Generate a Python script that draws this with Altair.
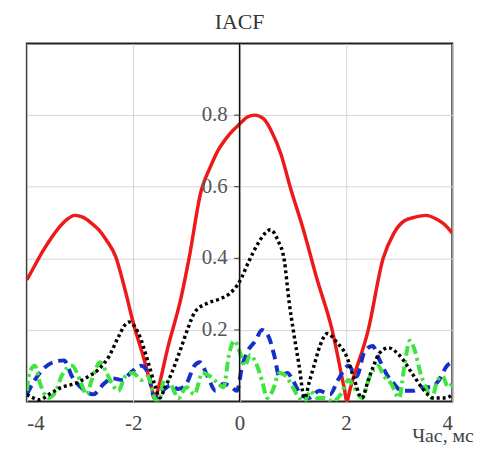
import altair as alt
import pandas as pd

# ---------------- data ----------------
red_x = [-4.0, -3.85, -3.7, -3.55, -3.4, -3.25, -3.1, -2.95, -2.8, -2.65, -2.5, -2.33, -2.15, -2.0,
         -1.8, -1.64, -1.59, -1.54, -1.35, -1.1, -0.95, -0.72, -0.55, -0.41, -0.2, 0.0, 0.15, 0.28,
         0.45, 0.6, 0.78, 0.95, 1.2, 1.45, 1.74, 1.97, 2.02, 2.07, 2.42, 2.7, 2.9, 3.1, 3.3, 3.5,
         3.7, 3.85, 4.0]
red_y = [0.34, 0.38, 0.42, 0.455, 0.485, 0.508, 0.52, 0.515, 0.50, 0.48, 0.45, 0.405, 0.31, 0.22,
         0.12, 0.03, 0.005, 0.03, 0.15, 0.29, 0.40, 0.59, 0.655, 0.70, 0.745, 0.775, 0.795, 0.80,
         0.79, 0.755, 0.69, 0.60, 0.48, 0.345, 0.20, 0.035, 0.0, 0.03, 0.20, 0.40, 0.47, 0.505,
         0.515, 0.52, 0.51, 0.495, 0.47]

black_x = [-4.0, -3.88, -3.77, -3.53, -3.34, -3.1, -2.9, -2.65, -2.46, -2.28, -2.15, -2.08, -1.9,
           -1.72, -1.59, -1.5, -1.4, -1.29, -1.1, -0.97, -0.84, -0.6, -0.4, -0.2, 0.0, 0.17, 0.34,
           0.48, 0.58, 0.72, 0.84, 0.93, 1.02, 1.12, 1.22, 1.32, 1.4, 1.51, 1.65, 1.83, 2.0, 2.14,
           2.3, 2.42, 2.52, 2.63, 2.8, 3.0, 3.26, 3.45, 3.64, 3.88, 4.0]
black_y = [0.02, 0.01, 0.005, 0.025, 0.04, 0.05, 0.065, 0.09, 0.125, 0.18, 0.215, 0.222, 0.19,
           0.11, 0.045, 0.01, 0.04, 0.075, 0.15, 0.205, 0.25, 0.275, 0.285, 0.30, 0.335, 0.39, 0.44,
           0.47, 0.48, 0.45, 0.395, 0.28, 0.19, 0.10, 0.01, 0.06, 0.10, 0.155, 0.19, 0.165, 0.13, 0.07,
           0.01, 0.06, 0.10, 0.135, 0.15, 0.13, 0.075, 0.035, 0.01, 0.01, 0.02]

blue_x = [-4.0, -3.85, -3.7, -3.5, -3.3, -3.15, -2.95, -2.75, -2.55, -2.4, -2.2, -2.05, -1.85,
          -1.72, -1.6, -1.45, -1.3, -1.15, -1.0, -0.85, -0.75, -0.6, -0.45, -0.3, -0.15, -0.05,
          0.05, 0.15, 0.3, 0.42, 0.55, 0.65, 0.75, 0.9, 1.0, 1.15, 1.3, 1.5, 1.7, 1.85, 2.05, 2.2,
          2.35, 2.5, 2.62, 2.75, 2.9, 3.05, 3.25, 3.45, 3.6, 3.75, 3.9, 4.0]
blue_y = [0.02, 0.06, 0.09, 0.11, 0.115, 0.07, 0.035, 0.02, 0.05, 0.065, 0.06, 0.08, 0.10,
          0.08, 0.01, 0.03, 0.045, 0.035, 0.05, 0.10, 0.11, 0.07, 0.03, 0.05, 0.04, 0.03,
          0.10, 0.14, 0.17, 0.20, 0.18, 0.13, 0.07, 0.08, 0.06, 0.02, 0.01, 0.03, 0.02, 0.06, 0.10, 0.07,
          0.14, 0.155, 0.12, 0.08, 0.05, 0.03, 0.03, 0.04, 0.04, 0.06, 0.10, 0.11]

green_x = [-4.0, -3.95, -3.85, -3.75, -3.6, -3.45, -3.35, -3.15, -3.0, -2.88, -2.78, -2.62, -2.5,
           -2.4, -2.28, -2.15, -2.0, -1.85, -1.72, -1.6, -1.52, -1.42, -1.3, -1.15, -1.0, -0.85,
           -0.7, -0.55, -0.4, -0.3, -0.2, -0.1, 0.0, 0.1, 0.2, 0.3, 0.42, 0.52, 0.62, 0.75, 0.88,
           1.0, 1.12, 1.22, 1.33, 1.45, 1.6, 1.75, 1.9, 2.05, 2.15, 2.3, 2.45, 2.6, 2.72, 2.85, 3.0,
           3.1, 3.2, 3.3, 3.4, 3.5, 3.62, 3.72, 3.82, 3.92, 4.0]
green_y = [0.03, 0.08, 0.10, 0.05, 0.01, 0.03, 0.07, 0.10, 0.06, 0.02, 0.06, 0.11, 0.08,
           0.05, 0.03, 0.07, 0.08, 0.06, 0.07, 0.01, 0.0, 0.06, 0.05, 0.01, 0.04, 0.02,
           0.08, 0.07, 0.05, 0.04, 0.13, 0.17, 0.14, 0.10, 0.13, 0.11, 0.06, 0.01, 0.03, 0.08, 0.07,
           0.04, 0.01, 0.0, 0.03, 0.01, 0.01, 0.0, 0.02, 0.06, 0.04, 0.01, 0.07, 0.10, 0.07, 0.05, 0.01,
           0.10, 0.17, 0.14, 0.08, 0.04, 0.01, 0.06, 0.07, 0.04, 0.05]

x_ticks = [-4, -2, 0, 2, 4]
y_ticks = [0.2, 0.4, 0.6, 0.8]
y_tick_labels = ["0.2", "0.4", "0.6", "0.8"]

W, H = 429, 361
SERIF = "Liberation Serif"


def frame(xs, ys):
    return pd.DataFrame({"t": xs, "v": ys})


xscale = alt.Scale(domain=[-4, 4], nice=False, zero=False)
yscale = alt.Scale(domain=[0, 1], nice=False, zero=True)

x_enc = alt.X(
    "t:Q", scale=xscale,
    axis=alt.Axis(values=x_ticks, grid=True, gridColor="#d6d6d6", gridWidth=1,
                  domain=False, ticks=False, labelExpr="datum.value + ''",
                  labelFont=SERIF, labelFontSize=21, labelColor="#444", labelPadding=11,
                  title="Час, мс", titleFont=SERIF, titleFontSize=20, titleFontWeight="normal",
                  titleColor="#444", titleAlign="left", titleBaseline="alphabetic",
                  titleX=388, titleY=40),
)
y_enc = alt.Y(
    "v:Q", scale=yscale,
    axis=alt.Axis(values=y_ticks, grid=True, gridColor="#d6d6d6", gridWidth=1,
                  domain=False, ticks=False, labels=False),
    title=None,
)

red = alt.Chart(frame(red_x, red_y)).mark_line(
    color="#ee1a1a", strokeWidth=3.5, interpolate="monotone", clip=True
).encode(x=x_enc, y=y_enc)

blue = alt.Chart(frame(blue_x, blue_y)).mark_line(
    color="#1530c8", strokeWidth=4, strokeDash=[10, 6], interpolate="monotone", clip=True
).encode(x=x_enc, y=y_enc)

green = alt.Chart(frame(green_x, green_y)).mark_line(
    color="#3fe43f", strokeWidth=4, strokeDash=[10, 4, 3, 4], interpolate="monotone", clip=True
).encode(x=x_enc, y=y_enc)

black = alt.Chart(frame(black_x, black_y)).mark_line(
    color="#000000", strokeWidth=3.5, strokeDash=[3, 3], interpolate="monotone", clip=True
).encode(x=x_enc, y=y_enc)

# y axis drawn through x = 0
axis_line = alt.Chart(pd.DataFrame({"t": [0]})).mark_rule(
    color="#111", strokeWidth=1.5
).encode(x=alt.X("t:Q", scale=xscale))

ytick_df = pd.DataFrame({"v": y_ticks, "t": [0] * len(y_ticks),
                         "t2": [-0.1] * len(y_ticks), "lab": y_tick_labels})
ytick_marks = alt.Chart(ytick_df).mark_rule(color="#333", strokeWidth=1).encode(
    x=alt.X("t:Q", scale=xscale), x2="t2:Q", y=alt.Y("v:Q", scale=yscale))
ytick_text = alt.Chart(ytick_df).mark_text(
    align="right", baseline="middle", dx=-12, font=SERIF, fontSize=21, color="#555"
).encode(x=alt.X("t:Q", scale=xscale), y=alt.Y("v:Q", scale=yscale), text="lab:N")

chart = alt.layer(red, blue, green, black, axis_line, ytick_marks, ytick_text).properties(
    width=W, height=H,
    title=alt.TitleParams("IACF", font=SERIF, fontSize=22, fontWeight="normal",
                          color="#333", anchor="middle", offset=9),
    autosize=alt.AutoSizeParams(type="none"),
    padding={"left": 19, "top": 34, "right": 37, "bottom": 42},
).configure_view(stroke="#222", strokeWidth=2)

chart.save("out.html", embed_options={"renderer": "svg", "actions": False})
